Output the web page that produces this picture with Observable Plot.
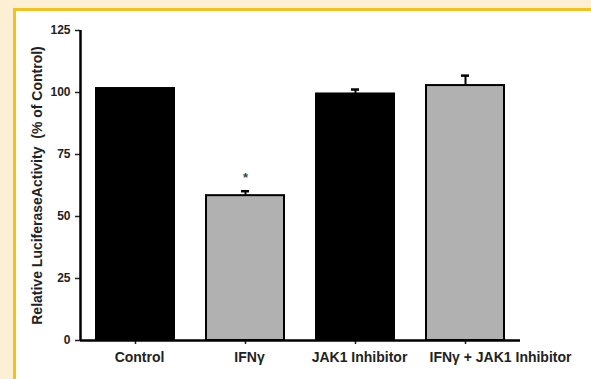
<!DOCTYPE html>
<html>
<head>
<meta charset="utf-8">
<script src="https://cdn.jsdelivr.net/npm/d3@7"></script>
<script src="https://cdn.jsdelivr.net/npm/@observablehq/plot@0.6"></script>
<style>
  html, body { margin: 0; padding: 0; }
  body { width: 591px; height: 379px; background: #fcefd3; position: relative; overflow: hidden; font-family: "Liberation Sans", Arial, sans-serif; }
  #panel { position: absolute; left: 13px; top: 8px; width: 578px; height: 371px; background: #fff; border-left: 3px solid #f3c11b; border-top: 3px solid #f3c11b; box-sizing: border-box; }
  #chart { position: absolute; left: 0; top: 0; }
  #chart svg { background: transparent; }
</style>
</head>
<body>
<div id="panel"></div>
<div id="chart"></div>
<script>
const categories = ["Control", "IFNγ", "JAK1 Inhibitor", "IFNγ + JAK1 Inhibitor"];
const values = [101.6, 58.4, 99.4, 102.8];
const errors = [0, 1.8, 1.8, 4.0];
const fills = ["#000000", "#b1b1b1", "#000000", "#b1b1b1"];
const marks = ["", "*", "", ""];
const yTicks = [0, 25, 50, 75, 100, 125];
const yLabel = "Relative LuciferaseActivity  (% of Control)";

const data = categories.map((c, i) => ({cat: c, v: values[i], e: errors[i], f: fills[i], m: marks[i]}));
const withErr = data.filter(d => d.e > 0);

const chart = Plot.plot({
  width: 591,
  height: 379,
  marginLeft: 80,
  marginRight: 71,
  marginTop: 30,
  marginBottom: 39,
  style: {fontFamily: "'Liberation Sans', Arial, sans-serif", fontWeight: "bold", background: "transparent", color: "#222"},
  x: {domain: categories, paddingInner: 0.29, paddingOuter: 0.145},
  y: {domain: [0, 125]},
  marks: [
    Plot.barY(data, {x: "cat", y: "v", fill: "f", stroke: "#000", strokeWidth: 2}),
    Plot.ruleX(withErr, {x: "cat", y1: "v", y2: d => d.v + d.e, stroke: "#000", strokeWidth: 2}),
    Plot.tickY(withErr, {x: "cat", y: d => d.v + d.e, stroke: "#000", strokeWidth: 2.5, insetLeft: 35, insetRight: 35}),
    Plot.text(data.filter(d => d.m), {x: "cat", y: d => d.v + d.e, text: "m", dy: -13, fontSize: 13, fill: "#444"}),
    Plot.axisY({ticks: yTicks, tickSize: 5, tickPadding: 5, fontSize: 12, label: yLabel, labelAnchor: "center", labelArrow: "none", labelOffset: 48, strokeWidth: 1.5}),
    Plot.axisX({tickSize: 4, tickFormat: () => "", label: null, strokeWidth: 1.5}),
    Plot.axisX(categories.slice(0, 3), {tickSize: 0, tickPadding: 12, dx: 4, fontSize: 14, label: null}),
    Plot.axisX(categories.slice(3), {tickSize: 0, tickPadding: 12, dx: 35, fontSize: 14, label: null}),
    Plot.ruleX([categories[0]], {x: d => d, y1: 0, y2: 125, dx: -55, stroke: "#000", strokeWidth: 2.5}),
    Plot.ruleY([0], {stroke: "#000", strokeWidth: 2.5})
  ]
});
chart.querySelectorAll("[aria-label='y-axis label']").forEach(el => el.setAttribute("font-size", "14"));
document.getElementById("chart").appendChild(chart);
</script>
</body>
</html>
